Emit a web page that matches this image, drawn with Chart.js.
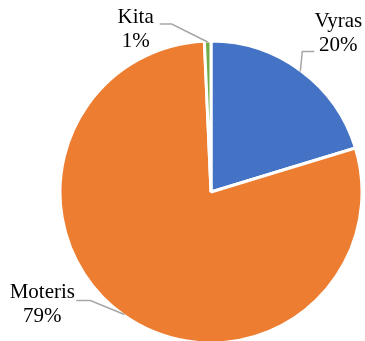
<!DOCTYPE html>
<html>
<head>
    <title>Lytis</title>
    <script src="https://cdn.jsdelivr.net/npm/chart.js@4.4.0/dist/chart.umd.min.js"></script>
    <style>
        body { margin: 0; padding: 0; background: #fff; }
        .chart-box { width: 365px; height: 341px; }
    </style>
</head>
<body>
    <div class="chart-box"><canvas id="genderChart"></canvas></div>

    <script>
        const categories = ['Vyras', 'Moteris', 'Kita'];
        const shares = [20.3, 79.0, 0.7];
        const colors = ['#4472C4', '#ED7D31', '#70AD47'];

        // leader line + label placement, relative to the point on the rim
        const callouts = [
            { elbow: [2, -20], end: [14, -20], text: [38, -38] },     // Vyras
            { elbow: [-34, -14], end: [-48, -14], text: [-82, -10] }, // Moteris
            { elbow: [-36, -18], end: [-48, -18], text: [-72, -13] }  // Kita
        ];

        const calloutPlugin = {
            id: 'callouts',
            afterDatasetsDraw(chart) {
                const ctx = chart.ctx;
                const arcs = chart.getDatasetMeta(0).data;
                ctx.save();
                arcs.forEach((arc, i) => {
                    const p = arc.getProps(['x', 'y', 'startAngle', 'endAngle', 'outerRadius'], true);
                    const mid = (p.startAngle + p.endAngle) / 2;
                    const ax = p.x + Math.cos(mid) * (p.outerRadius - 1);
                    const ay = p.y + Math.sin(mid) * (p.outerRadius - 1);
                    const c = callouts[i];
                    ctx.strokeStyle = '#A6A6A6';
                    ctx.lineWidth = 1.5;
                    ctx.beginPath();
                    ctx.moveTo(ax, ay);
                    ctx.lineTo(ax + c.elbow[0], ay + c.elbow[1]);
                    ctx.lineTo(ax + c.end[0], ay + c.end[1]);
                    ctx.stroke();

                    const tx = ax + c.text[0];
                    const ty = ay + c.text[1];
                    ctx.fillStyle = '#000';
                    ctx.font = '21px "Liberation Serif", "Times New Roman", serif';
                    ctx.textAlign = 'center';
                    ctx.textBaseline = 'middle';
                    ctx.fillText(categories[i], tx, ty - 12);
                    ctx.fillText(Math.round(shares[i]) + '%', tx, ty + 12);
                });
                ctx.restore();
            }
        };

        new Chart(document.getElementById('genderChart'), {
            type: 'pie',
            data: {
                labels: categories,
                datasets: [{
                    data: shares,
                    backgroundColor: colors,
                    borderColor: '#fff',
                    borderWidth: 3,
                    radius: 151
                }]
            },
            options: {
                responsive: true,
                maintainAspectRatio: false,
                animation: false,
                layout: { padding: { left: 57, right: 0, top: 43, bottom: 0 } },
                plugins: {
                    legend: { display: false },
                    tooltip: { enabled: false }
                }
            },
            plugins: [calloutPlugin]
        });
    </script>
</body>
</html>
